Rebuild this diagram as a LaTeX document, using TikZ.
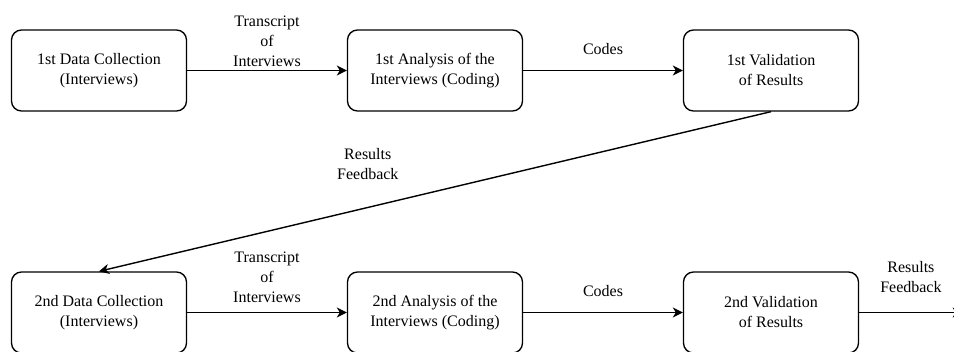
\documentclass[tikz,border=0pt]{standalone}
\usepackage{fontspec}
\setmainfont{Liberation Serif}
\usetikzlibrary{arrows.meta, positioning}

\begin{document}
\begin{tikzpicture}[
  node distance=119.75pt and 119.75pt,
  stage/.style={rectangle, rounded corners=7.5pt, draw=black, line width=1pt, minimum width=131.25pt, minimum height=60.75pt, align=center, font=\fontsize{12}{15}\selectfont},
  e/.style={-{Stealth[length=7.5pt, width=7.5pt, inset=2.2pt]}, line width=1.05pt},
  lbl/.style={align=center, inner sep=0pt, font=\fontsize{12}{15}\selectfont}]
  \useasboundingbox (-74.25pt,-210.375pt) rectangle (641.25pt,52.875pt);
  \node[stage](D1){1st Data Collection\\(Interviews)};
  \node[stage, right=of D1](A1){1st Analysis of the\\Interviews (Coding)};
  \node[stage, right=of A1](V1){1st Validation\\of Results};
  \node[stage, below=of D1](D2){2nd Data Collection\\(Interviews)};
  \node[stage, right=of D2](A2){2nd Analysis of the\\Interviews (Coding)};
  \node[stage, right=of A2](V2){2nd Validation\\of Results};
  \coordinate[right=77.6pt of V2](out);
  \draw[e](D1)--node[lbl, above=2.25pt]{Transcript\\of\\Interviews}(A1);
  \draw[e](A1)--node[lbl, above=11.25pt]{Codes}(V1);
  \draw[e](V1.south)--node[lbl, pos=0.6, above=20pt]{Results\\Feedback}(D2.north);
  \draw[e](D2)--node[lbl, above=6.75pt]{Transcript\\of\\Interviews}(A2);
  \draw[e](A2)--node[lbl, above=11.25pt]{Codes}(V2);
  \draw[e](V2)--node[lbl, above=14pt]{Results\\Feedback}(out);
\end{tikzpicture}
\end{document}
